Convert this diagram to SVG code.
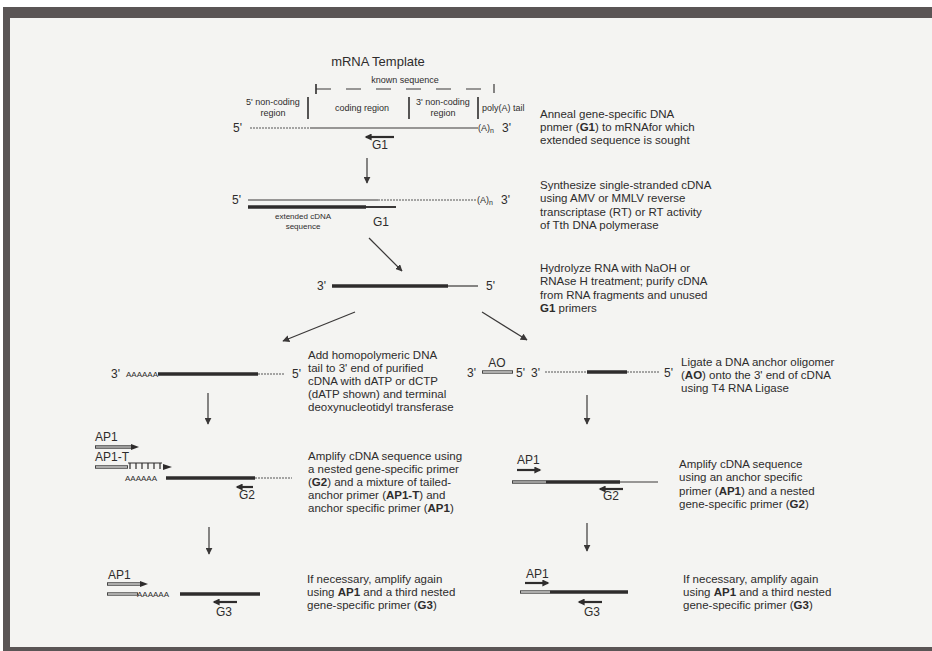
<svg xmlns="http://www.w3.org/2000/svg" width="932" height="651" viewBox="0 0 932 651">
<defs>
<style>
text{font-family:"Liberation Sans",Arial,sans-serif;fill:#2e2c2c}
.d{font-size:11.5px}
.l{font-size:12px}
.s{font-size:9px}
.xs{font-size:8px}
.t{font-size:13px}
.b{font-weight:bold}
.thin{stroke:#3a3838;stroke-width:1.2;fill:none}
.dot{stroke:#555;stroke-width:1.2;stroke-dasharray:2 1;fill:none}
.thick{stroke:#2e2c2c;stroke-width:3.5;fill:none}
.med{stroke:#3a3838;stroke-width:2;fill:none}
.bar{stroke:#2e2c2c;stroke-width:1.6}
.conn{stroke:#3a3838;stroke-width:1.2;fill:none}
.pr{stroke:#2e2c2c;stroke-width:2.2;fill:none}
.dbo{stroke:#444;stroke-width:3.4;fill:none}
.dbi{stroke:#f4f4f2;stroke-width:1.2;fill:none}
</style>
<marker id="ah" viewBox="0 0 10 10" refX="9" refY="5" markerWidth="7" markerHeight="7" markerUnits="userSpaceOnUse" orient="auto"><path d="M0,0 L10,5 L0,10 z" fill="#3a3838"/></marker>
<marker id="ph" viewBox="0 0 10 10" refX="8" refY="5" markerWidth="8" markerHeight="7" markerUnits="userSpaceOnUse" orient="auto"><path d="M0,0 L10,5 L0,10 z" fill="#2e2c2c"/></marker>
</defs>
<rect x="0" y="0" width="932" height="651" fill="#ffffff"/>
<rect x="3" y="7" width="929" height="644" fill="#5a5555"/>
<rect x="10" y="18" width="922" height="629" fill="#f4f4f2"/>

<g id="connectors">
<line class="conn" x1="367" y1="158" x2="367" y2="183" marker-end="url(#ah)"/>
<line class="conn" x1="369" y1="238" x2="402" y2="271" marker-end="url(#ah)"/>
<line class="conn" x1="355" y1="312" x2="283" y2="341" marker-end="url(#ah)"/>
<line class="conn" x1="482" y1="312" x2="527" y2="340" marker-end="url(#ah)"/>
<line class="conn" x1="208" y1="393" x2="208" y2="424" marker-end="url(#ah)"/>
<line class="conn" x1="587" y1="395" x2="587" y2="424" marker-end="url(#ah)"/>
<line class="conn" x1="209" y1="527" x2="209" y2="554" marker-end="url(#ah)"/>
<line class="conn" x1="587" y1="523" x2="587" y2="551" marker-end="url(#ah)"/>
</g>

<g id="mrna-template">
<text class="t" x="378" y="66" text-anchor="middle">mRNA Template</text>
<text class="s" x="405" y="83" text-anchor="middle">known sequence</text>
<line class="thin" x1="316" y1="89" x2="486" y2="89" stroke-dasharray="15 15"/>
<line class="bar" x1="316" y1="84" x2="316" y2="94"/>
<line class="thin" x1="494" y1="84" x2="494" y2="93"/>
<line class="bar" x1="308" y1="97" x2="308" y2="119"/>
<line class="bar" x1="409" y1="97" x2="409" y2="119"/>
<line class="bar" x1="478" y1="97" x2="478" y2="119"/>
<text class="s" x="273" y="105" text-anchor="middle">5' non-coding</text>
<text class="s" x="273" y="116" text-anchor="middle">region</text>
<text class="s" x="362" y="111" text-anchor="middle">coding region</text>
<text class="s" x="443" y="105" text-anchor="middle">3' non-coding</text>
<text class="s" x="443" y="116" text-anchor="middle">region</text>
<text class="s" x="482" y="111">poly(A) tail</text>
<text class="l" x="233" y="132">5'</text>
<line class="dot" x1="250" y1="128" x2="310" y2="128"/>
<line class="thin" x1="310" y1="128" x2="478" y2="128"/>
<text class="s" x="478" y="131">(A)<tspan font-size="7" dy="2">n</tspan></text>
<text class="l" x="502" y="132">3'</text>
<line class="pr" x1="394" y1="137" x2="366" y2="137" marker-end="url(#ph)"/>
<text class="l" x="380" y="149" text-anchor="middle">G1</text>
</g>

<g id="step1-text">
<text class="d" x="540" y="117.8">Anneal gene-specific DNA</text>
<text class="d" x="540" y="131">pnmer (<tspan class="b">G1</tspan>) to mRNAfor which</text>
<text class="d" x="540" y="144.2">extended sequence is sought</text>
</g>

<g id="cdna-synthesis">
<text class="l" x="232" y="204">5'</text>
<line class="thin" x1="248" y1="200" x2="378" y2="200"/>
<line class="dot" x1="378" y1="200" x2="477" y2="200"/>
<text class="s" x="477" y="203">(A)<tspan font-size="7" dy="2">n</tspan></text>
<text class="l" x="501" y="204">3'</text>
<line class="thick" x1="248" y1="207" x2="366" y2="207"/>
<line class="med" x1="366" y1="207" x2="396" y2="207"/>
<text class="xs" x="303" y="219" text-anchor="middle">extended cDNA</text>
<text class="xs" x="303" y="229" text-anchor="middle">sequence</text>
<text class="l" x="381" y="226" text-anchor="middle">G1</text>
</g>

<g id="step2-text">
<text class="d" x="540" y="189.2">Synthesize single-stranded cDNA</text>
<text class="d" x="540" y="202.4">using AMV or MMLV reverse</text>
<text class="d" x="540" y="215.6">transcriptase (RT) or RT activity</text>
<text class="d" x="540" y="228.8">of Tth DNA polymerase</text>
</g>

<g id="hydrolyze">
<text class="l" x="317" y="290">3'</text>
<line class="thick" x1="332" y1="286" x2="448" y2="286"/>
<line class="thin" x1="448" y1="286" x2="478" y2="286"/>
<text class="l" x="486" y="290">5'</text>
</g>

<g id="step3-text">
<text class="d" x="540" y="272.2">Hydrolyze RNA with NaOH or</text>
<text class="d" x="540" y="285.4">RNAse H treatment; purify cDNA</text>
<text class="d" x="540" y="298.6">from RNA fragments and unused</text>
<text class="d" x="540" y="311.8"><tspan class="b">G1</tspan> primers</text>
</g>

<g id="tailing">
<text class="l" x="111" y="378">3'</text>
<text class="xs" x="126" y="377">AAAAAA</text>
<line class="thick" x1="158" y1="374" x2="258" y2="374"/>
<line class="dot" x1="258" y1="374" x2="285" y2="374"/>
<text class="l" x="292" y="378">5'</text>
<text class="d" x="308" y="358.6">Add homopolymeric DNA</text>
<text class="d" x="308" y="371.8">tail to 3' end of purified</text>
<text class="d" x="308" y="385">cDNA with dATP or dCTP</text>
<text class="d" x="308" y="398.2">(dATP shown) and terminal</text>
<text class="d" x="308" y="411.4">deoxynucleotidyl transferase</text>
</g>

<g id="ligation">
<text class="l" x="467" y="377">3'</text>
<text class="l" x="497" y="367" text-anchor="middle">AO</text>
<line class="dbo" x1="482" y1="372" x2="513" y2="372"/>
<line class="dbi" x1="483" y1="372" x2="512" y2="372"/>
<text class="l" x="516" y="377">5'</text>
<text class="l" x="531" y="377">3'</text>
<line class="dot" x1="545" y1="372" x2="587" y2="372"/>
<line class="thick" x1="587" y1="372" x2="627" y2="372"/>
<line class="dot" x1="627" y1="372" x2="660" y2="372"/>
<text class="l" x="664" y="377">5'</text>
<text class="d" x="681" y="365.8">Ligate a DNA anchor oligomer</text>
<text class="d" x="681" y="379">(<tspan class="b">AO</tspan>) onto the 3' end of cDNA</text>
<text class="d" x="681" y="392.2">using T4 RNA Ligase</text>
</g>

<g id="amplify-left">
<text class="l" x="95" y="441">AP1</text>
<line class="dbo" x1="95" y1="447" x2="132" y2="447"/>
<line class="dbi" x1="96" y1="447" x2="131" y2="447"/>
<path d="M131,444 L139,447 L131,450 z" fill="#2e2c2c"/>
<text class="l" x="95" y="461">AP1-T</text>
<line class="dbo" x1="95" y1="467" x2="128" y2="467"/>
<line class="dbi" x1="96" y1="467" x2="127" y2="467"/>
<path d="M128,463 H162 M130,463 V469 M136,463 V469 M142,463 V469 M148,463 V469 M154,463 V469 M160,463 V469" stroke="#2e2c2c" stroke-width="1.2" fill="none"/>
<path d="M163,464 L172,467 L163,470 z" fill="#2e2c2c"/>
<text class="xs" x="125" y="481">AAAAAA</text>
<line class="thick" x1="166" y1="478" x2="255" y2="478"/>
<line class="dot" x1="255" y1="478" x2="292" y2="478"/>
<line class="pr" x1="253" y1="487" x2="237" y2="487" marker-end="url(#ph)"/>
<text class="l" x="247" y="499" text-anchor="middle">G2</text>
<text class="d" x="308" y="459.6">Amplify cDNA sequence using</text>
<text class="d" x="308" y="472.8">a nested gene-specific primer</text>
<text class="d" x="308" y="486">(<tspan class="b">G2</tspan>) and a mixture of tailed-</text>
<text class="d" x="308" y="499.2">anchor primer (<tspan class="b">AP1-T</tspan>) and</text>
<text class="d" x="308" y="512.4">anchor specific primer (<tspan class="b">AP1</tspan>)</text>
</g>

<g id="amplify-right">
<text class="l" x="517" y="464">AP1</text>
<line class="pr" x1="517" y1="470" x2="540" y2="470" marker-end="url(#ph)"/>
<line class="dbo" x1="512" y1="482" x2="546" y2="482"/>
<line class="dbi" x1="513" y1="482" x2="546" y2="482"/>
<line class="thick" x1="546" y1="482" x2="620" y2="482"/>
<line class="thin" x1="620" y1="482" x2="658" y2="482"/>
<line class="pr" x1="623" y1="489" x2="600" y2="489" marker-end="url(#ph)"/>
<text class="l" x="611" y="500" text-anchor="middle">G2</text>
<text class="d" x="679" y="468.2">Amplify cDNA sequence</text>
<text class="d" x="679" y="481.4">using an anchor specific</text>
<text class="d" x="679" y="494.6">primer (<tspan class="b">AP1</tspan>) and a nested</text>
<text class="d" x="679" y="507.8">gene-specific primer (<tspan class="b">G2</tspan>)</text>
</g>

<g id="reamplify-left">
<text class="l" x="108" y="579">AP1</text>
<line class="dbo" x1="107" y1="584" x2="141" y2="584"/>
<line class="dbi" x1="108" y1="584" x2="140" y2="584"/>
<path d="M140,581 L148,584 L140,587 z" fill="#2e2c2c"/>
<line class="dbo" x1="107" y1="594" x2="138" y2="594"/>
<line class="dbi" x1="108" y1="594" x2="137" y2="594"/>
<text class="xs" x="137" y="597">AAAAAA</text>
<line class="thick" x1="180" y1="594" x2="260" y2="594"/>
<line class="pr" x1="237" y1="602" x2="214" y2="602" marker-end="url(#ph)"/>
<text class="l" x="224" y="616" text-anchor="middle">G3</text>
<text class="d" x="307" y="582.8">If necessary, amplify again</text>
<text class="d" x="307" y="596">using <tspan class="b">AP1</tspan> and a third nested</text>
<text class="d" x="307" y="609.2">gene-specific primer (<tspan class="b">G3</tspan>)</text>
</g>

<g id="reamplify-right">
<text class="l" x="526" y="578">AP1</text>
<line class="pr" x1="525" y1="583" x2="548" y2="583" marker-end="url(#ph)"/>
<line class="dbo" x1="520" y1="592" x2="550" y2="592"/>
<line class="dbi" x1="521" y1="592" x2="550" y2="592"/>
<line class="thick" x1="550" y1="592" x2="628" y2="592"/>
<line class="pr" x1="602" y1="602" x2="579" y2="602" marker-end="url(#ph)"/>
<text class="l" x="592" y="616" text-anchor="middle">G3</text>
<text class="d" x="683" y="582.8">If necessary, amplify again</text>
<text class="d" x="683" y="596">using <tspan class="b">AP1</tspan> and a third nested</text>
<text class="d" x="683" y="609.2">gene-specific primer (<tspan class="b">G3</tspan>)</text>
</g>
</svg>
